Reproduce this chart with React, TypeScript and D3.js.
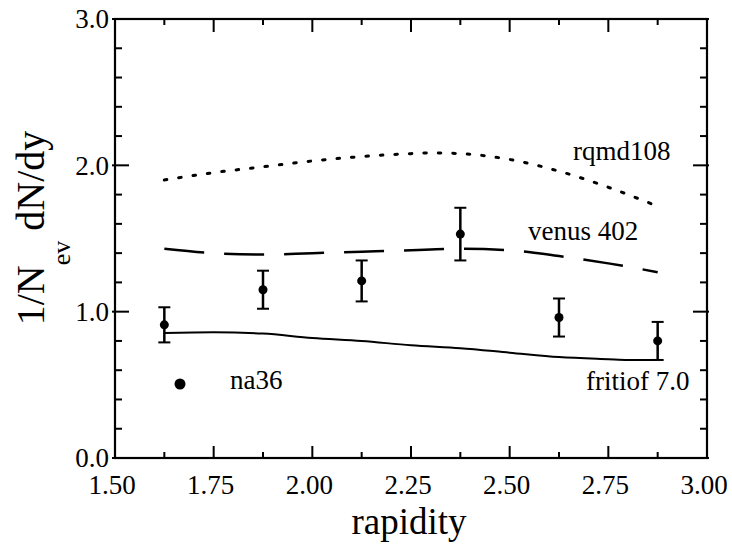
import React from "react";
import * as d3 from "d3";

const W = 732;
const H = 545;

// na36 data
const dataX = [1.625, 1.875, 2.125, 2.375, 2.625, 2.875];
const dataY = [0.91, 1.15, 1.21, 1.53, 0.96, 0.8];
const dataErr = [0.12, 0.13, 0.14, 0.18, 0.13, 0.13];

// model curves
const curveX = [1.625, 1.75, 1.875, 2.0, 2.125, 2.25, 2.3, 2.375, 2.5, 2.625, 2.75, 2.875];
const rqmd = [1.9, 1.95, 1.99, 2.03, 2.06, 2.08, 2.085, 2.08, 2.04, 1.96, 1.85, 1.72];
const venus = [1.43, 1.4, 1.39, 1.4, 1.41, 1.42, 1.425, 1.43, 1.42, 1.38, 1.33, 1.27];
const fritX = [1.625, 1.75, 1.875, 2.0, 2.125, 2.25, 2.375, 2.5, 2.625, 2.75, 2.8, 2.875];
const fritiof = [0.855, 0.86, 0.85, 0.82, 0.8, 0.77, 0.75, 0.72, 0.69, 0.675, 0.67, 0.67];

const xMajor = [1.5, 1.75, 2.0, 2.25, 2.5, 2.75, 3.0];
const xMajorLabels = ["1.50", "1.75", "2.00", "2.25", "2.50", "2.75", "3.00"];
const xMinor = [1.625, 1.875, 2.125, 2.375, 2.625, 2.875];
const yMajor = [0, 1, 2, 3];
const yMajorLabels = ["0.0", "1.0", "2.0", "3.0"];
const yMinor = [0.2, 0.4, 0.6, 0.8, 1.2, 1.4, 1.6, 1.8, 2.2, 2.4, 2.6, 2.8];

const FONT = "'Liberation Serif', 'Times New Roman', serif";

export default function App() {
  const x = d3.scaleLinear().domain([1.5, 3.0]).range([115, 707]);
  const y = d3.scaleLinear().domain([0, 3]).range([458, 19]);
  const x0 = x(1.5), x1 = x(3.0), y0 = y(0), y1 = y(3);

  const line = (xs: number[], ys: number[]) =>
    d3.line<number>().x((_, i) => x(xs[i])).y((d) => y(d)).curve(d3.curveMonotoneX)(ys) || "";

  return (
    <svg width={W} height={H} style={{ position: "absolute", left: 0, top: 0, background: "#fff" }}>
      <rect x={0} y={0} width={W} height={H} fill="#fff" />
      {/* frame */}
      <rect x={x0} y={y1} width={x1 - x0} height={y0 - y1} fill="none" stroke="#000" strokeWidth={2.2} />
      {/* x ticks */}
      {xMajor.map((v, i) => (
        <g key={"xm" + i}>
          <line x1={x(v)} x2={x(v)} y1={y0} y2={y0 - 12} stroke="#000" strokeWidth={2} />
          <line x1={x(v)} x2={x(v)} y1={y1} y2={y1 + 13} stroke="#000" strokeWidth={2} />
          <text x={x(v) - 3} y={494} textAnchor="middle" fontFamily={FONT} fontSize={27}>
            {xMajorLabels[i]}
          </text>
        </g>
      ))}
      {xMinor.map((v, i) => (
        <g key={"xn" + i}>
          <line x1={x(v)} x2={x(v)} y1={y0} y2={y0 - 6} stroke="#000" strokeWidth={2} />
          <line x1={x(v)} x2={x(v)} y1={y1} y2={y1 + 6} stroke="#000" strokeWidth={2} />
        </g>
      ))}
      {/* y ticks */}
      {yMajor.map((v, i) => (
        <g key={"ym" + i}>
          <line x1={x0 - 3} x2={x0 + 14} y1={y(v)} y2={y(v)} stroke="#000" strokeWidth={2} />
          <line x1={x1 + 2} x2={x1 - 14} y1={y(v)} y2={y(v)} stroke="#000" strokeWidth={2} />
          <text x={109} y={y(v)} dy="0.35em" textAnchor="end" fontFamily={FONT} fontSize={27}>
            {yMajorLabels[i]}
          </text>
        </g>
      ))}
      {yMinor.map((v, i) => (
        <g key={"yn" + i}>
          <line x1={x0} x2={x0 + 7} y1={y(v)} y2={y(v)} stroke="#000" strokeWidth={2} />
          <line x1={x1} x2={x1 - 7} y1={y(v)} y2={y(v)} stroke="#000" strokeWidth={2} />
        </g>
      ))}
      {/* model curves */}
      <path d={line(curveX, rqmd)} fill="none" stroke="#000" strokeWidth={3} strokeDasharray="2.5 12" strokeLinecap="round" />
      <path d={line(curveX, venus)} fill="none" stroke="#000" strokeWidth={2.5} strokeDasharray="40 20" />
      <path d={line(fritX, fritiof)} fill="none" stroke="#000" strokeWidth={2} />
      {/* data with error bars */}
      {dataX.map((v, i) => {
        const cx = x(v);
        const top = y(dataY[i] + dataErr[i]);
        const bot = y(dataY[i] - dataErr[i]);
        return (
          <g key={"d" + i}>
            <line x1={cx} x2={cx} y1={top} y2={bot} stroke="#000" strokeWidth={2.5} />
            <line x1={cx - 6} x2={cx + 6} y1={top} y2={top} stroke="#000" strokeWidth={2} />
            <line x1={cx - 6} x2={cx + 6} y1={bot} y2={bot} stroke="#000" strokeWidth={2} />
            <circle cx={cx} cy={y(dataY[i])} r={4.5} fill="#000" />
          </g>
        );
      })}
      {/* annotations */}
      <text x={573} y={160} fontFamily={FONT} fontSize={27}>rqmd108</text>
      <text x={528} y={240} fontFamily={FONT} fontSize={27}>venus 402</text>
      <text x={586} y={390} fontFamily={FONT} fontSize={27}>fritiof 7.0</text>
      <circle cx={180} cy={384} r={5.5} fill="#000" />
      <text x={230} y={389} fontFamily={FONT} fontSize={27}>na36</text>
      {/* axis titles */}
      <text x={409} y={534} textAnchor="middle" fontFamily={FONT} fontSize={37}>rapidity</text>
      <text transform="translate(44,228) rotate(-90)" textAnchor="middle" fontFamily={FONT} fontSize={40}>
        1/N<tspan fontSize={26} dy={26}>ev</tspan>
        <tspan dy={-26}> dN/dy</tspan>
      </text>
    </svg>
  );
}
